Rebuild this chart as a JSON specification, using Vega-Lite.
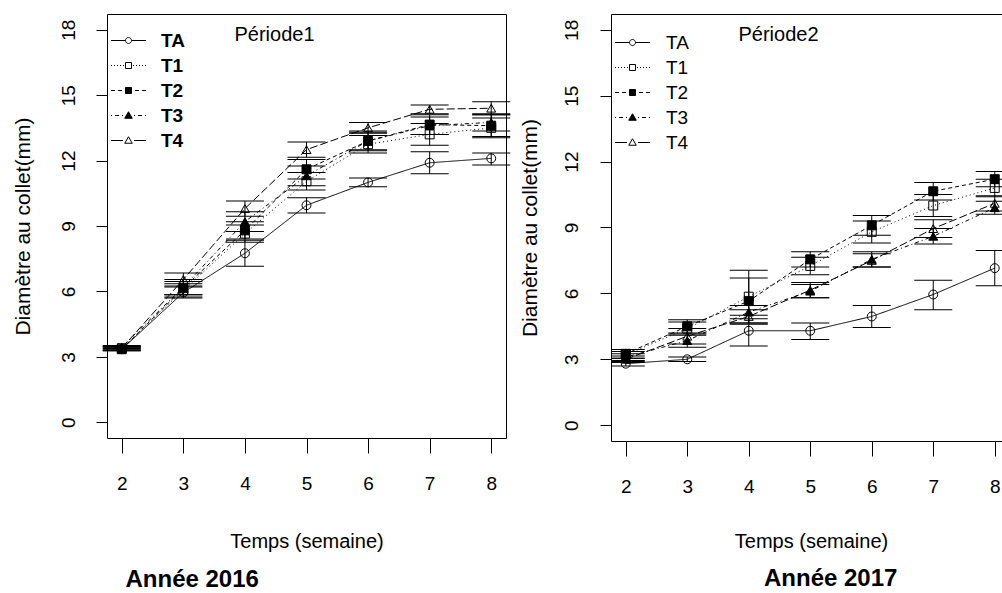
{
  "$schema": "https://vega.github.io/schema/vega-lite/v6.json",
  "background": "white",
  "padding": {"left": 11, "top": 13, "right": 0, "bottom": 0},
  "spacing": 8,
  "config": {
    "font": "Liberation Sans",
    "view": {"stroke": "black", "strokeWidth": 1},
    "axis": {"grid": false, "domain": false, "tickColor": "black", "domainColor": "black", "labelColor": "black", "titleColor": "black", "titleFontWeight": "normal", "labelFlush": false, "labelOverlap": false, "tickWidth": 1},
    "axisY": {"labelAngle": -90},
    "legend": {"labelColor": "black"},
    "title": {"color": "black"}
  },
  "datasets": {
    "p2016": [
      {"week": 2, "trt": "TA", "m": 3.35, "lo": 3.28, "hi": 3.42},
      {"week": 2, "trt": "T1", "m": 3.40, "lo": 3.32, "hi": 3.48},
      {"week": 2, "trt": "T2", "m": 3.35, "lo": 3.28, "hi": 3.42},
      {"week": 2, "trt": "T3", "m": 3.45, "lo": 3.38, "hi": 3.52},
      {"week": 2, "trt": "T4", "m": 3.40, "lo": 3.33, "hi": 3.47},
      {"week": 3, "trt": "TA", "m": 5.95, "lo": 5.70, "hi": 6.20},
      {"week": 3, "trt": "T1", "m": 6.05, "lo": 5.75, "hi": 6.35},
      {"week": 3, "trt": "T2", "m": 6.15, "lo": 5.85, "hi": 6.45},
      {"week": 3, "trt": "T3", "m": 6.20, "lo": 5.85, "hi": 6.55},
      {"week": 3, "trt": "T4", "m": 6.55, "lo": 6.25, "hi": 6.85},
      {"week": 4, "trt": "TA", "m": 7.75, "lo": 7.15, "hi": 8.35},
      {"week": 4, "trt": "T1", "m": 8.65, "lo": 8.25, "hi": 9.05},
      {"week": 4, "trt": "T2", "m": 8.80, "lo": 8.40, "hi": 9.20},
      {"week": 4, "trt": "T3", "m": 9.20, "lo": 8.75, "hi": 9.65},
      {"week": 4, "trt": "T4", "m": 9.80, "lo": 9.45, "hi": 10.15},
      {"week": 5, "trt": "TA", "m": 9.95, "lo": 9.60, "hi": 10.30},
      {"week": 5, "trt": "T1", "m": 11.05, "lo": 10.65, "hi": 11.45},
      {"week": 5, "trt": "T2", "m": 11.60, "lo": 11.15, "hi": 12.05},
      {"week": 5, "trt": "T3", "m": 11.30, "lo": 10.85, "hi": 11.75},
      {"week": 5, "trt": "T4", "m": 12.50, "lo": 12.15, "hi": 12.85},
      {"week": 6, "trt": "TA", "m": 11.00, "lo": 10.80, "hi": 11.20},
      {"week": 6, "trt": "T1", "m": 12.75, "lo": 12.35, "hi": 13.15},
      {"week": 6, "trt": "T2", "m": 12.90, "lo": 12.45, "hi": 13.35},
      {"week": 6, "trt": "T3", "m": 12.90, "lo": 12.50, "hi": 13.30},
      {"week": 6, "trt": "T4", "m": 13.50, "lo": 13.25, "hi": 13.75},
      {"week": 7, "trt": "TA", "m": 11.90, "lo": 11.40, "hi": 12.40},
      {"week": 7, "trt": "T1", "m": 13.20, "lo": 12.70, "hi": 13.70},
      {"week": 7, "trt": "T2", "m": 13.65, "lo": 13.20, "hi": 14.10},
      {"week": 7, "trt": "T3", "m": 13.60, "lo": 13.20, "hi": 14.00},
      {"week": 7, "trt": "T4", "m": 14.35, "lo": 14.15, "hi": 14.55},
      {"week": 8, "trt": "TA", "m": 12.10, "lo": 11.80, "hi": 12.35},
      {"week": 8, "trt": "T1", "m": 13.50, "lo": 13.05, "hi": 13.95},
      {"week": 8, "trt": "T2", "m": 13.60, "lo": 13.10, "hi": 14.10},
      {"week": 8, "trt": "T3", "m": 13.75, "lo": 13.35, "hi": 14.15},
      {"week": 8, "trt": "T4", "m": 14.40, "lo": 14.10, "hi": 14.70}
    ],
    "p2017": [
      {"week": 2, "trt": "TA", "m": 2.80, "lo": 2.70, "hi": 2.90},
      {"week": 2, "trt": "T1", "m": 3.20, "lo": 3.05, "hi": 3.35},
      {"week": 2, "trt": "T2", "m": 3.25, "lo": 3.05, "hi": 3.45},
      {"week": 2, "trt": "T3", "m": 3.10, "lo": 2.95, "hi": 3.25},
      {"week": 2, "trt": "T4", "m": 3.00, "lo": 2.85, "hi": 3.15},
      {"week": 3, "trt": "TA", "m": 3.00, "lo": 2.90, "hi": 3.10},
      {"week": 3, "trt": "T1", "m": 4.40, "lo": 4.10, "hi": 4.70},
      {"week": 3, "trt": "T2", "m": 4.50, "lo": 4.20, "hi": 4.80},
      {"week": 3, "trt": "T3", "m": 3.85, "lo": 3.55, "hi": 4.15},
      {"week": 3, "trt": "T4", "m": 4.05, "lo": 3.70, "hi": 4.40},
      {"week": 4, "trt": "TA", "m": 4.30, "lo": 3.60, "hi": 5.00},
      {"week": 4, "trt": "T1", "m": 5.85, "lo": 4.65, "hi": 7.05},
      {"week": 4, "trt": "T2", "m": 5.65, "lo": 4.60, "hi": 6.70},
      {"week": 4, "trt": "T3", "m": 5.15, "lo": 4.85, "hi": 5.45},
      {"week": 4, "trt": "T4", "m": 4.95, "lo": 4.65, "hi": 5.25},
      {"week": 5, "trt": "TA", "m": 4.30, "lo": 3.90, "hi": 4.65},
      {"week": 5, "trt": "T1", "m": 7.25, "lo": 6.85, "hi": 7.65},
      {"week": 5, "trt": "T2", "m": 7.55, "lo": 7.20, "hi": 7.90},
      {"week": 5, "trt": "T3", "m": 6.10, "lo": 5.80, "hi": 6.40},
      {"week": 5, "trt": "T4", "m": 6.15, "lo": 5.80, "hi": 6.50},
      {"week": 6, "trt": "TA", "m": 4.95, "lo": 4.45, "hi": 5.45},
      {"week": 6, "trt": "T1", "m": 8.80, "lo": 8.30, "hi": 9.30},
      {"week": 6, "trt": "T2", "m": 9.10, "lo": 8.65, "hi": 9.55},
      {"week": 6, "trt": "T3", "m": 7.55, "lo": 7.20, "hi": 7.90},
      {"week": 6, "trt": "T4", "m": 7.50, "lo": 7.20, "hi": 7.80},
      {"week": 7, "trt": "TA", "m": 5.95, "lo": 5.25, "hi": 6.60},
      {"week": 7, "trt": "T1", "m": 10.00, "lo": 9.50, "hi": 10.50},
      {"week": 7, "trt": "T2", "m": 10.65, "lo": 10.25, "hi": 11.05},
      {"week": 7, "trt": "T3", "m": 8.60, "lo": 8.25, "hi": 8.95},
      {"week": 7, "trt": "T4", "m": 8.95, "lo": 8.55, "hi": 9.35},
      {"week": 8, "trt": "TA", "m": 7.15, "lo": 6.35, "hi": 7.95},
      {"week": 8, "trt": "T1", "m": 10.80, "lo": 10.40, "hi": 11.20},
      {"week": 8, "trt": "T2", "m": 11.20, "lo": 10.85, "hi": 11.55},
      {"week": 8, "trt": "T3", "m": 9.90, "lo": 9.60, "hi": 10.20},
      {"week": 8, "trt": "T4", "m": 10.10, "lo": 9.75, "hi": 10.45}
    ]
  },
  "hconcat": [
    {
      "title": {"text": "Année 2016", "orient": "bottom", "anchor": "start", "fontSize": 24, "fontWeight": "bold", "dx": 114, "offset": 16},
      "vconcat": [
        {
          "width": 399,
          "height": 424,
          "data": {"name": "p2016"},
          "encoding": {
            "x": {"field": "week", "type": "quantitative", "scale": {"domain": [1.76, 8.24], "nice": false, "zero": false}, "axis": null},
            "y": {"field": "m", "type": "quantitative", "scale": {"domain": [-0.72, 18.72], "nice": false, "zero": false},
              "axis": {"values": [0, 3, 6, 9, 12, 15, 18], "tickSize": 11, "labelAngle": -90, "labelAlign": "center", "labelBaseline": "middle", "labelPadding": 28, "labelFontSize": 19, "title": "Diamètre au collet(mm)", "titleFontSize": 21, "titleAngle": 270, "titleX": -84, "titleY": 212, "titleAlign": "center", "titleBaseline": "middle", "encode": {"labels": {"angle": {"value": -90}}}}}
          },
          "resolve": {"scale": {"shape": "independent", "fill": "independent", "stroke": "independent"}, "axis": {"x": "independent"}},
          "layer": [
            {
              "mark": {"type": "rule", "color": "black", "strokeWidth": 1},
              "encoding": {
                "x": {"field": "week", "type": "quantitative", "scale": {"domain": [1.76, 8.24], "nice": false, "zero": false},
                  "axis": {"values": [2, 3, 4, 5, 6, 7, 8], "tickSize": 15, "labelPadding": 21, "labelFontSize": 19, "title": "Temps (semaine)", "titleFontSize": 20, "titleX": 199.5, "titleY": 109, "titleAlign": "center", "titleBaseline": "alphabetic"}},
                "y": {"field": "lo", "type": "quantitative", "scale": {"domain": [-0.72, 18.72], "nice": false, "zero": false},
                  "axis": {"values": [0, 3, 6, 9, 12, 15, 18], "tickSize": 11, "labelAngle": -90, "labelAlign": "center", "labelBaseline": "middle", "labelPadding": 28, "labelFontSize": 19, "title": "Diamètre au collet(mm)", "titleFontSize": 21, "titleAngle": 270, "titleX": -84, "titleY": 212, "titleAlign": "center", "titleBaseline": "middle", "encode": {"labels": {"angle": {"value": -90}}}}},
                "y2": {"field": "hi"}
              }
            },
            {
              "mark": {"type": "tick", "orient": "horizontal", "size": 38, "thickness": 1, "color": "black", "opacity": 1},
              "encoding": {
                "x": {"field": "week", "type": "quantitative", "scale": {"domain": [1.76, 8.24], "nice": false, "zero": false},
                  "axis": {"orient": "top", "domain": false, "ticks": false, "labels": false, "title": "Période1", "titleX": 167, "titleY": 20, "titleAngle": 0, "titleAlign": "center", "titleBaseline": "middle", "titleFontSize": 20, "titleFontWeight": "normal"}},
                "y": {"field": "lo", "type": "quantitative", "scale": {"domain": [-0.72, 18.72], "nice": false, "zero": false},
                  "axis": {"values": [0, 3, 6, 9, 12, 15, 18], "tickSize": 11, "labelAngle": -90, "labelAlign": "center", "labelBaseline": "middle", "labelPadding": 28, "labelFontSize": 19, "title": "Diamètre au collet(mm)", "titleFontSize": 21, "titleAngle": 270, "titleX": -84, "titleY": 212, "titleAlign": "center", "titleBaseline": "middle", "encode": {"labels": {"angle": {"value": -90}}}}}
              }
            },
            {
              "mark": {"type": "tick", "orient": "horizontal", "size": 38, "thickness": 1, "color": "black", "opacity": 1},
              "encoding": {
                "y": {"field": "hi", "type": "quantitative", "scale": {"domain": [-0.72, 18.72], "nice": false, "zero": false},
                  "axis": {"values": [0, 3, 6, 9, 12, 15, 18], "tickSize": 11, "labelAngle": -90, "labelAlign": "center", "labelBaseline": "middle", "labelPadding": 28, "labelFontSize": 19, "title": "Diamètre au collet(mm)", "titleFontSize": 21, "titleAngle": 270, "titleX": -84, "titleY": 212, "titleAlign": "center", "titleBaseline": "middle", "encode": {"labels": {"angle": {"value": -90}}}}}
              }
            },
            {
              "mark": {"type": "line", "color": "black", "strokeWidth": 1},
              "encoding": {
                "strokeDash": {"field": "trt", "type": "nominal", "scale": {"domain": ["TA", "T1", "T2", "T3", "T4"], "range": [[1, 0], [1, 3], [4, 3], [1, 3, 4, 3], [8, 3]]}, "legend": null}
              }
            },
            {
              "mark": {"type": "point", "size": 80, "stroke": "black", "strokeWidth": 1, "opacity": 1},
              "encoding": {
                "shape": {"field": "trt", "type": "nominal", "scale": {"domain": ["TA", "T1", "T2", "T3", "T4"], "range": ["circle", "square", "square", "triangle-up", "triangle-up"]}, "legend": null},
                "fill": {"field": "trt", "type": "nominal", "scale": {"domain": ["TA", "T1", "T2", "T3", "T4"], "range": ["transparent", "transparent", "black", "black", "transparent"]}, "legend": null}
              }
            },
            {
              "transform": [{"filter": "datum.week > 100"}],
              "mark": {"type": "point", "size": 100, "strokeWidth": 1, "opacity": 1},
              "encoding": {
                "shape": {"field": "trt", "type": "nominal",
                  "scale": {"domain": ["TA", "T1", "T2", "T3", "T4"], "range": [
                    "M-3.5 0H-0.6M0.6 0H3.5M-0.6 0A0.6 0.6 0 1 1 0.6 0A0.6 0.6 0 1 1 -0.6 0Z",
                    "M-3.5 0H-3.3M-2.9 0H-2.7M-2.3 0H-2.1M-1.7 0H-1.5M-1.1 0H-0.9M0.9 0H1.1M1.5 0H1.7M2.1 0H2.3M2.7 0H2.9M3.3 0H3.5M-0.6 -0.6H0.6V0.6H-0.6Z",
                    "M-3.5 0H-2.7M-2.1 0H-1.3M1.3 0H2.1M2.7 0H3.5M-0.6 -0.6H0.6V0.6H-0.6Z",
                    "M-3.5 0H-3.3M-2.7 0H-1.9M-1.3 0H-1.1M1.1 0H1.3M1.9 0H2.7M3.3 0H3.5M0 -0.75L0.75 0.55H-0.75Z",
                    "M-3.5 0H-1.1M1.1 0H3.5M0 -0.75L0.75 0.55H-0.75Z"
                  ]},
                  "legend": {"orient": "none", "legendX": 0, "legendY": 17, "title": null, "padding": 0, "symbolSize": 100, "symbolOffset": 12, "labelOffset": 23, "rowPadding": 5, "symbolStrokeColor": "black", "symbolStrokeWidth": 1, "labelFontSize": 19, "labelFontWeight": "bold", "labelColor": "black"}},
                "fill": {"field": "trt", "type": "nominal",
                  "scale": {"domain": ["TA", "T1", "T2", "T3", "T4"], "range": ["transparent", "transparent", "black", "black", "transparent"]},
                  "legend": {"orient": "none", "legendX": 0, "legendY": 17, "title": null, "padding": 0, "symbolSize": 100, "symbolOffset": 12, "labelOffset": 23, "rowPadding": 5, "symbolStrokeColor": "black", "symbolStrokeWidth": 1, "labelFontSize": 19, "labelFontWeight": "bold", "labelColor": "black"}},
                "stroke": {"field": "trt", "type": "nominal",
                  "scale": {"domain": ["TA", "T1", "T2", "T3", "T4"], "range": ["black", "black", "black", "black", "black"]},
                  "legend": {"orient": "none", "legendX": 0, "legendY": 17, "title": null, "padding": 0, "symbolSize": 100, "symbolOffset": 12, "labelOffset": 23, "rowPadding": 5, "symbolStrokeColor": "black", "symbolStrokeWidth": 1, "labelFontSize": 19, "labelFontWeight": "bold", "labelColor": "black"}}
              }
            }
          ]
        }
      ]
    },
    {
      "title": {"text": "Année 2017", "orient": "bottom", "anchor": "start", "fontSize": 24, "fontWeight": "bold", "dx": 245, "offset": 16},
      "vconcat": [
        {
          "width": 391,
          "height": 427,
          "view": {"stroke": null},
          "data": {"name": "p2017"},
          "encoding": {
            "x": {"field": "week", "type": "quantitative", "scale": {"domain": [1.76, 8.118], "nice": false, "zero": false}, "axis": null},
            "y": {"field": "m", "type": "quantitative", "scale": {"domain": [-0.72, 18.72], "nice": false, "zero": false},
              "axis": {"values": [0, 3, 6, 9, 12, 15, 18], "domain": true, "tickSize": 11, "labelAngle": -90, "labelAlign": "center", "labelBaseline": "middle", "labelPadding": 29, "labelFontSize": 19, "title": "Diamètre au collet(mm)", "titleFontSize": 21, "titleAngle": 270, "titleX": -81, "titleY": 213.5, "titleAlign": "center", "titleBaseline": "middle", "encode": {"labels": {"angle": {"value": -90}}}}}
          },
          "resolve": {"scale": {"shape": "independent", "fill": "independent", "stroke": "independent"}, "axis": {"x": "independent"}},
          "layer": [
            {
              "mark": {"type": "rule", "color": "black", "strokeWidth": 1, "clip": true},
              "encoding": {
                "x": {"field": "week", "type": "quantitative", "scale": {"domain": [1.76, 8.118], "nice": false, "zero": false},
                  "axis": {"values": [2, 3, 4, 5, 6, 7, 8], "domain": true, "tickSize": 15, "labelPadding": 21, "labelFontSize": 19, "title": "Temps (semaine)", "titleFontSize": 20, "titleX": 200, "titleY": 106, "titleAlign": "center", "titleBaseline": "alphabetic"}},
                "y": {"field": "lo", "type": "quantitative", "scale": {"domain": [-0.72, 18.72], "nice": false, "zero": false},
                  "axis": {"values": [0, 3, 6, 9, 12, 15, 18], "domain": true, "tickSize": 11, "labelAngle": -90, "labelAlign": "center", "labelBaseline": "middle", "labelPadding": 29, "labelFontSize": 19, "title": "Diamètre au collet(mm)", "titleFontSize": 21, "titleAngle": 270, "titleX": -81, "titleY": 213.5, "titleAlign": "center", "titleBaseline": "middle", "encode": {"labels": {"angle": {"value": -90}}}}},
                "y2": {"field": "hi"}
              }
            },
            {
              "mark": {"type": "tick", "orient": "horizontal", "size": 38, "thickness": 1, "color": "black", "opacity": 1, "clip": true},
              "encoding": {
                "x": {"field": "week", "type": "quantitative", "scale": {"domain": [1.76, 8.118], "nice": false, "zero": false},
                  "axis": {"orient": "top", "domain": true, "ticks": false, "labels": false, "title": "Période2", "titleX": 167, "titleY": 20, "titleAngle": 0, "titleAlign": "center", "titleBaseline": "middle", "titleFontSize": 20, "titleFontWeight": "normal"}},
                "y": {"field": "lo", "type": "quantitative", "scale": {"domain": [-0.72, 18.72], "nice": false, "zero": false},
                  "axis": {"values": [0, 3, 6, 9, 12, 15, 18], "domain": true, "tickSize": 11, "labelAngle": -90, "labelAlign": "center", "labelBaseline": "middle", "labelPadding": 29, "labelFontSize": 19, "title": "Diamètre au collet(mm)", "titleFontSize": 21, "titleAngle": 270, "titleX": -81, "titleY": 213.5, "titleAlign": "center", "titleBaseline": "middle", "encode": {"labels": {"angle": {"value": -90}}}}}
              }
            },
            {
              "mark": {"type": "tick", "orient": "horizontal", "size": 38, "thickness": 1, "color": "black", "opacity": 1, "clip": true},
              "encoding": {
                "y": {"field": "hi", "type": "quantitative", "scale": {"domain": [-0.72, 18.72], "nice": false, "zero": false},
                  "axis": {"values": [0, 3, 6, 9, 12, 15, 18], "domain": true, "tickSize": 11, "labelAngle": -90, "labelAlign": "center", "labelBaseline": "middle", "labelPadding": 29, "labelFontSize": 19, "title": "Diamètre au collet(mm)", "titleFontSize": 21, "titleAngle": 270, "titleX": -81, "titleY": 213.5, "titleAlign": "center", "titleBaseline": "middle", "encode": {"labels": {"angle": {"value": -90}}}}}
              }
            },
            {
              "mark": {"type": "line", "color": "black", "strokeWidth": 1, "clip": true},
              "encoding": {
                "strokeDash": {"field": "trt", "type": "nominal", "scale": {"domain": ["TA", "T1", "T2", "T3", "T4"], "range": [[1, 0], [1, 3], [4, 3], [1, 3, 4, 3], [8, 3]]}, "legend": null}
              }
            },
            {
              "mark": {"type": "point", "size": 80, "stroke": "black", "strokeWidth": 1, "opacity": 1, "clip": true},
              "encoding": {
                "shape": {"field": "trt", "type": "nominal", "scale": {"domain": ["TA", "T1", "T2", "T3", "T4"], "range": ["circle", "square", "square", "triangle-up", "triangle-up"]}, "legend": null},
                "fill": {"field": "trt", "type": "nominal", "scale": {"domain": ["TA", "T1", "T2", "T3", "T4"], "range": ["transparent", "transparent", "black", "black", "transparent"]}, "legend": null}
              }
            },
            {
              "transform": [{"filter": "datum.week > 100"}],
              "mark": {"type": "point", "size": 100, "strokeWidth": 1, "opacity": 1},
              "encoding": {
                "shape": {"field": "trt", "type": "nominal",
                  "scale": {"domain": ["TA", "T1", "T2", "T3", "T4"], "range": [
                    "M-3.5 0H-0.6M0.6 0H3.5M-0.6 0A0.6 0.6 0 1 1 0.6 0A0.6 0.6 0 1 1 -0.6 0Z",
                    "M-3.5 0H-3.3M-2.9 0H-2.7M-2.3 0H-2.1M-1.7 0H-1.5M-1.1 0H-0.9M0.9 0H1.1M1.5 0H1.7M2.1 0H2.3M2.7 0H2.9M3.3 0H3.5M-0.6 -0.6H0.6V0.6H-0.6Z",
                    "M-3.5 0H-2.7M-2.1 0H-1.3M1.3 0H2.1M2.7 0H3.5M-0.6 -0.6H0.6V0.6H-0.6Z",
                    "M-3.5 0H-3.3M-2.7 0H-1.9M-1.3 0H-1.1M1.1 0H1.3M1.9 0H2.7M3.3 0H3.5M0 -0.75L0.75 0.55H-0.75Z",
                    "M-3.5 0H-1.1M1.1 0H3.5M0 -0.75L0.75 0.55H-0.75Z"
                  ]},
                  "legend": {"orient": "none", "legendX": 0, "legendY": 19, "title": null, "padding": 0, "symbolSize": 100, "symbolOffset": 12, "labelOffset": 24, "rowPadding": 5, "symbolStrokeColor": "black", "symbolStrokeWidth": 1, "labelFontSize": 19, "labelFontWeight": "normal", "labelColor": "black"}},
                "fill": {"field": "trt", "type": "nominal",
                  "scale": {"domain": ["TA", "T1", "T2", "T3", "T4"], "range": ["transparent", "transparent", "black", "black", "transparent"]},
                  "legend": {"orient": "none", "legendX": 0, "legendY": 19, "title": null, "padding": 0, "symbolSize": 100, "symbolOffset": 12, "labelOffset": 24, "rowPadding": 5, "symbolStrokeColor": "black", "symbolStrokeWidth": 1, "labelFontSize": 19, "labelFontWeight": "normal", "labelColor": "black"}},
                "stroke": {"field": "trt", "type": "nominal",
                  "scale": {"domain": ["TA", "T1", "T2", "T3", "T4"], "range": ["black", "black", "black", "black", "black"]},
                  "legend": {"orient": "none", "legendX": 0, "legendY": 19, "title": null, "padding": 0, "symbolSize": 100, "symbolOffset": 12, "labelOffset": 24, "rowPadding": 5, "symbolStrokeColor": "black", "symbolStrokeWidth": 1, "labelFontSize": 19, "labelFontWeight": "normal", "labelColor": "black"}}
              }
            }
          ]
        }
      ]
    }
  ]
}
